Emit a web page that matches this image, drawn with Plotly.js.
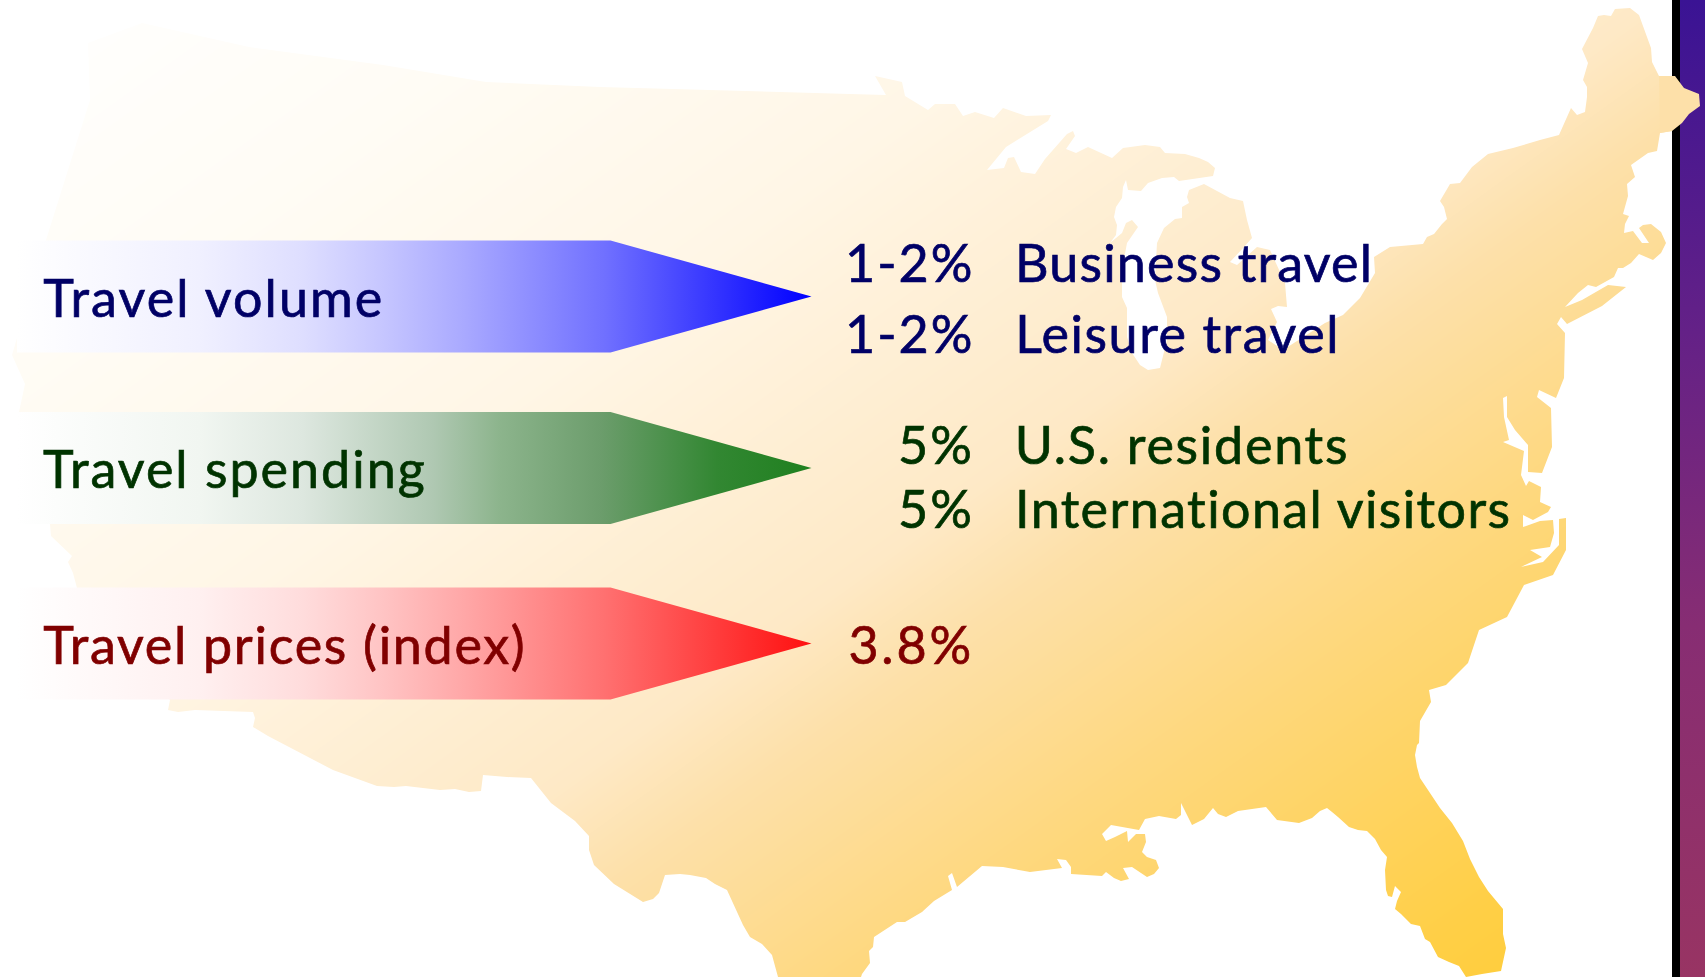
<!DOCTYPE html>
<html><head><meta charset="utf-8">
<script src="https://cdn.plot.ly/plotly-3.0.1.min.js"></script>
<style>html,body{margin:0;padding:0;background:#fff}#c{width:1705px;height:977px}</style>
</head><body><div id="c"></div>
<script>
const mapX=[142,249,383,486,600,850,886,875,902,905,928,935,955,963,975,994,1003,1026,1051,1048,1006,987,1004,1008,1014,1021,1035,1045,1067,1073,1075,1066,1076,1088,1112,1123,1145,1160,1165,1185,1199,1208,1215,1213,1179,1174,1162,1148,1141,1128,1126,1123,1122,1116,1114,1117,1116,1110,1122,1126,1132,1138,1127,1122,1122,1127,1127,1132,1140,1148,1160,1167,1167,1158,1155,1157,1164,1175,1182,1182,1189,1187,1189,1204,1230,1243,1247,1252,1244,1230,1237,1257,1270,1285,1287,1278,1271,1277,1268,1283,1325,1343,1360,1375,1374,1390,1423,1427,1434,1442,1447,1444,1440,1450,1460,1472,1488,1513,1540,1559,1571,1577,1585,1587,1587,1583,1588,1582,1593,1598,1604,1611,1615,1630,1639,1647,1651,1652,1659,1675,1684,1699,1700,1689,1682,1672,1660,1657,1648,1631,1635,1627,1628,1623,1629,1625,1624,1633,1642,1649,1639,1643,1651,1661,1666,1661,1653,1639,1631,1623,1618,1614,1596,1588,1578,1565,1582,1608,1626,1602,1567,1561,1557,1565,1564,1556,1539,1537,1551,1552,1542,1528,1528,1515,1507,1507,1503,1504,1509,1503,1524,1521,1526,1529,1541,1540,1551,1548,1533,1523,1523,1540,1553,1554,1550,1530,1542,1521,1543,1559,1559,1566,1566,1553,1524,1507,1479,1468,1446,1429,1431,1420,1419,1417,1415,1417,1420,1440,1452,1463,1470,1479,1488,1503,1503,1506,1501,1482,1466,1459,1449,1438,1430,1425,1420,1411,1401,1395,1397,1401,1395,1392,1388,1386,1385,1387,1381,1375,1367,1358,1349,1338,1332,1327,1320,1312,1299,1277,1266,1238,1226,1218,1213,1204,1192,1181,1181,1176,1159,1145,1139,1111,1102,1106,1115,1127,1128,1136,1145,1146,1142,1147,1156,1159,1154,1147,1138,1132,1123,1129,1121,1114,1106,1102,1071,1071,1066,1057,1062,1030,1003,982,957,952,948,952,934,922,905,897,874,873,869,870,862,861,778,772,762,750,743,727,715,706,690,680,665,659,653,643,614,594,589,589,575,551,531,507,483,481,469,455,440,406,394,377,333,268,253,255,253,195,178,168,170,77,73,68,72,51,50,19,25,12,46,90,88];
const mapY=[23,47,65,82,87,94,95,76,82,96,110,104,104,116,112,118,108,116,115,121,147,170,168,158,157,172,174,159,134,131,136,149,153,147,158,148,145,147,153,154,158,162,168,176,181,177,178,183,191,190,180,187,198,207,217,225,235,243,233,223,220,227,243,270,297,308,337,353,365,370,368,340,317,293,280,243,228,219,218,207,203,197,190,184,198,201,220,238,247,262,265,247,250,283,307,306,309,322,340,350,323,315,298,273,257,247,244,237,234,224,219,207,201,184,183,167,154,148,140,135,108,115,112,97,87,80,63,49,28,16,15,16,9,8,15,37,48,62,76,76,88,94,106,114,123,131,133,151,153,165,177,184,196,214,216,224,233,231,243,243,228,225,224,232,243,253,260,254,263,268,268,277,287,285,293,307,300,285,287,306,324,317,324,333,378,398,390,397,408,447,473,472,445,430,417,396,398,417,440,442,451,475,486,481,487,502,507,512,520,515,527,521,520,533,547,550,557,567,562,545,519,518,550,575,585,617,630,663,685,690,702,721,743,745,755,767,778,808,823,841,859,877,891,909,934,948,971,974,977,966,962,957,942,939,926,924,914,909,901,892,886,897,896,890,870,857,850,839,831,830,827,817,812,808,811,818,823,820,807,811,817,814,808,819,825,803,815,819,816,819,830,825,834,841,837,831,842,834,834,842,852,857,860,868,874,877,871,867,868,879,881,878,872,876,874,867,860,859,868,872,867,866,887,873,876,890,901,912,922,922,937,947,951,963,974,977,977,955,944,937,925,890,884,878,875,874,875,893,899,902,884,865,850,836,821,803,778,777,775,791,792,789,790,786,787,786,770,736,727,718,712,710,712,710,700,588,573,562,556,536,524,412,384,355,240,100,43];
const gradX=[-10,1715];
const gradY=[-10,987];
const gradZ=[[0,1065],[860,1925]];
const gradStops=[[0,'#ffffff'],[0.18,'#fffcf5'],[0.35,'#fff6e6'],[0.54,'#fee9c6'],[0.6,'#fde0a9'],[0.716,'#fed87f'],[0.89,'#ffcf46'],[1,'#ffcb2e']];
const canvasX=[0,1705,1705,0,0];
const canvasY=[0,0,977,977,0];
const arrowX=[17,610.5,811.5,610.5,17,17];
const arrowYs=[[240.5,240.5,296.5,352.5,352.5,240.5],[412,412,468,524,524,412],[587.5,587.5,643.5,699.5,699.5,587.5]];
const arrowStops=[
 [[0,'#ffffff'],[0.23,'#f0f0ff'],[0.36,'#dedeff'],[0.46,'#c6c6ff'],[0.56,'#aaaaff'],[0.74,'#7070ff'],[1,'#0000ff']],
 [[0,'#ffffff'],[0.23,'#f1f6f1'],[0.36,'#dde7df'],[0.524,'#afc8b2'],[0.608,'#8cb48c'],[0.734,'#6c9d6c'],[0.881,'#328732'],[1,'#1f801f']],
 [[0,'#ffffff'],[0.23,'#fff0f0'],[0.36,'#ffdcdc'],[0.46,'#ffc4c4'],[0.56,'#ffa8a8'],[0.74,'#ff7070'],[1,'#ff1010']]
];
const stripBlackX=[1672,1680,1680,1672,1672];
const stripBlackY=[0,0,977,977,0];
const stripPurpleX=[1680,1705,1705,1680,1680];
const stripStops=[[0,'#3a1394'],[0.34,'#642187'],[0.64,'#872d73'],[1,'#983463']];
const labels=['Travel volume','Travel spending','Travel prices (index)'];
const labelColor=['#000066','#003300','#800000'];
const labelBase=[316,487,663];
const labelSpacing=[2.1,2.0,1.7];
const pct=['1-2%','1-2%','5%','5%','3.8%'];
const items=['Business travel','Leisure travel','U.S. residents','International visitors'];
const rowBase=[281,352,463,527,663];
const rowColor=['#000066','#000066','#003300','#003300','#800000'];
const pctSpacing=[2.0,2.0,2.0,2.0,2.8];
const itemSpacing=[1.2,1.55,1.75,1.4];
const FONT='Lato', SIZE=52, OFF=-19;

const closed=(a)=>a.concat([a[0]]);
const traces=[];
traces.push({type:'heatmap',x:gradX,y:gradY,z:gradZ,zsmooth:'best',zmin:0,zmax:1925,colorscale:gradStops,showscale:false,hoverinfo:'skip'});
traces.push({type:'scatter',mode:'none',x:canvasX.concat([null],closed(mapX).reverse()),y:canvasY.concat([null],closed(mapY).reverse()),fill:'toself',fillcolor:'#ffffff',hoverinfo:'skip'});
traces.push({type:'scatter',mode:'none',x:stripBlackX,y:stripBlackY,fill:'toself',fillcolor:'#000000',hoverinfo:'skip'});
traces.push({type:'scatter',mode:'none',x:stripPurpleX,y:stripBlackY,fill:'toself',fillcolor:'#3a1394',fillgradient:{type:'vertical',colorscale:stripStops,start:0,stop:977},hoverinfo:'skip'});
const tipStart=mapX.indexOf(1659), tipEnd=mapX.indexOf(1660);
traces.push({type:'scatter',mode:'none',x:mapX.slice(tipStart,tipEnd+1),y:mapY.slice(tipStart,tipEnd+1),fill:'toself',fillcolor:'#fde0a9',hoverinfo:'skip'});
arrowYs.forEach((ys,i)=>traces.push({type:'scatter',mode:'none',x:arrowX,y:ys,fill:'toself',fillcolor:arrowStops[i][6][1],fillgradient:{type:'horizontal',colorscale:arrowStops[i],start:17,stop:811.5},hoverinfo:'skip'}));

const ann=[]; let css='';
// letter spacing widens a centred line on both sides, so half of it is taken back here
const t=(text,x,y,color,anchor,sp)=>{
  const half=text.length*sp/2;
  css+=`g.annotation[data-index="${ann.length}"] text{letter-spacing:${sp}px;stroke:${color};stroke-width:0.7px;}\n`;
  ann.push({text,x:anchor==='left'?x+half:x-half,y:y+OFF,xref:'x',yref:'y',xanchor:anchor,yanchor:'middle',showarrow:false,font:{family:FONT,size:SIZE,color},borderpad:0,borderwidth:0});
};
labels.forEach((l,i)=>t(l,43,labelBase[i],labelColor[i],'left',labelSpacing[i]));
pct.forEach((p,i)=>t(p,974,rowBase[i],rowColor[i],'right',pctSpacing[i]));
items.forEach((p,i)=>t(p,1015,rowBase[i],rowColor[i],'left',itemSpacing[i]));
const st=document.createElement('style'); st.textContent=css; document.head.appendChild(st);

Plotly.newPlot('c',traces,{
 width:1705,height:977,margin:{l:0,r:0,t:0,b:0},paper_bgcolor:'#ffffff',plot_bgcolor:'#ffffff',showlegend:false,
 xaxis:{range:[0,1705],visible:false,fixedrange:true},
 yaxis:{range:[977,0],visible:false,fixedrange:true},
 annotations:ann
},{displayModeBar:false,staticPlot:true});
</script></body></html>
